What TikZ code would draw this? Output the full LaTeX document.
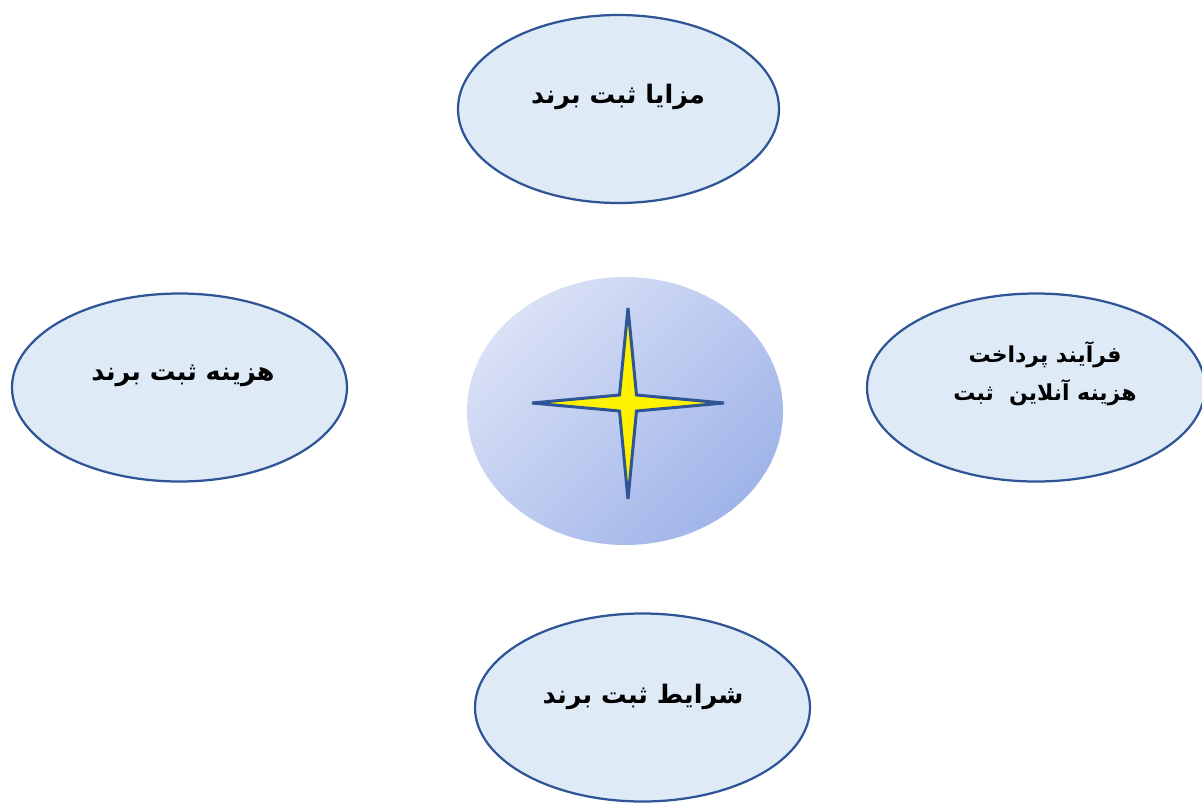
\documentclass[tikz,border=0pt]{standalone}
\usepackage{fontspec}
\newfontfamily\arabicfont[Script=Arabic]{DejaVu Sans}
\TeXXeTstate=1
\usetikzlibrary{shapes.geometric}

\definecolor{bubblefill}{RGB}{222,235,247}
\definecolor{bubbleline}{RGB}{47,85,151}
\definecolor{hubLight}{RGB}{218,225,246}
\definecolor{hubDark}{RGB}{160,180,233}

\begin{document}
\begin{tikzpicture}[
    x=0.2mm, y=-0.2mm,
    % Estilos de los nodos
    bubble/.style={ellipse, draw=bubbleline, line width=0.45mm, fill=bubblefill,
        minimum width=#1, minimum height=37.6mm, inner sep=0pt},
    bubble/.default=67mm,
    hub/.style={ellipse, minimum width=63.2mm, minimum height=53.6mm, inner sep=0pt,
        top color=hubLight, bottom color=hubDark, shading angle=45},
    txt/.style={font=\arabicfont\bfseries\fontsize{14.5}{21.5}\selectfont, align=center},
    smalltxt/.style={txt, font=\arabicfont\bfseries\fontsize{12.5}{21.5}\selectfont},
    sparkle/.style={fill=yellow, draw=bubbleline, line width=0.6mm, line join=miter}
]
\useasboundingbox (0,0) rectangle (1202,803);

% ==========================================
% CENTRO
% ==========================================
\node[hub] (hub) at (625,411) {};
\draw[sparkle] (628,403) ++(0,-95) -- ++(8.5,87) -- ++(87.5,8) -- ++(-87.5,8)
    -- ++(-8.5,88) -- ++(-8.5,-88) -- ++(-87.5,-8) -- ++(87.5,-8) -- cycle;

% ==========================================
% BURBUJAS
% ==========================================
\node[bubble=64.2mm] (top) at (618.5,109) {};
\node[txt] (topt) at (618,97) {\beginR مزایا ثبت برند\endR};

\node[bubble] (left) at (179.5,387.5) {};
\node[txt] (leftt) at (183,376) {\beginR هزینه ثبت برند\endR};

\node[bubble=67.6mm] (right) at (1036,387.5) {};
\node[smalltxt] (rightt) at (1045,374) {\beginR فرآیند پرداخت\endR\\\beginR هزینه آنلاین\ \ ثبت\endR};

\node[bubble] (bottom) at (642.5,707.5) {};
\node[txt] (bottomt) at (643,697) {\beginR شرایط ثبت برند\endR};

\end{tikzpicture}
\end{document}
